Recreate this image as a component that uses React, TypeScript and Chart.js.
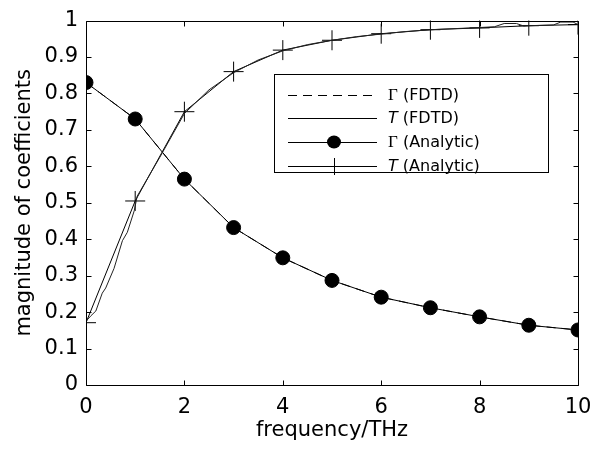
import React, { useEffect, useRef } from 'react';
import { Chart, registerables } from 'chart.js';

Chart.register(...registerables);

// ---- data ----
const freqAnalytic = [0, 1, 2, 3, 4, 5, 6, 7, 8, 9, 10];
const gammaAnalytic = [0.83, 0.73, 0.565, 0.432, 0.349, 0.287, 0.241, 0.212, 0.187, 0.164, 0.151];
const tAnalytic = [0.171, 0.505, 0.75, 0.86, 0.919, 0.946, 0.964, 0.975, 0.98, 0.986, 0.989];

const freqGammaFdtd = [0, 1, 2, 3, 4, 5, 6, 7, 8, 9, 10];
const gammaFdtd = [0.83, 0.73, 0.565, 0.432, 0.349, 0.287, 0.241, 0.212, 0.187, 0.164, 0.151];

const freqTFdtd = [0, 0.1, 0.2, 0.33, 0.4, 0.57, 0.74, 0.84, 0.98, 1.04, 1.5, 2, 2.5, 3, 3.5, 4, 4.5, 5, 5.5, 6, 6.5, 7, 7.5, 8, 8.3, 8.5, 8.75, 8.9, 9, 9.5, 9.65, 9.9, 10];
const tFdtd = [0.175, 0.19, 0.203, 0.252, 0.266, 0.32, 0.396, 0.419, 0.478, 0.518, 0.625, 0.745, 0.81, 0.857, 0.892, 0.917, 0.934, 0.946, 0.956, 0.963, 0.97, 0.975, 0.978, 0.981, 0.983, 0.992, 0.992, 0.985, 0.986, 0.988, 0.996, 0.996, 0.989];

const xTicks = [0, 2, 4, 6, 8, 10];
const yTicks = [0, 0.1, 0.2, 0.3, 0.4, 0.5, 0.6, 0.7, 0.8, 0.9, 1];

const legendSymbols = ['Γ', 'T', 'Γ', 'T'];
const legendTexts = [' (FDTD)', ' (FDTD)', ' (Analytic)', ' (Analytic)'];

const xTitle = 'frequency/THz';
const yTitle = 'magnitude of coefficients';

const toPts = (xs: number[], ys: number[]) => xs.map((x, i) => ({ x, y: ys[i] }));

const framePlugin = {
  id: 'framePlugin',
  afterDatasetsDraw(chart: any) {
    const { ctx, chartArea, scales } = chart;
    const { left, right, top, bottom } = chartArea;
    const xs = scales.x;
    const ys = scales.y;
    ctx.save();
    ctx.strokeStyle = '#000';
    ctx.lineWidth = 1;
    const L = Math.round(left) + 0.5;
    const R = Math.round(right) + 0.5;
    const T = Math.round(top) + 0.5;
    const B = Math.round(bottom) + 0.5;
    ctx.beginPath();
    ctx.rect(L, T, R - L, B - T);
    const tl = 5;
    xTicks.forEach((v) => {
      const px = Math.round(xs.getPixelForValue(v)) + 0.5;
      ctx.moveTo(px, B);
      ctx.lineTo(px, B - tl);
      ctx.moveTo(px, T);
      ctx.lineTo(px, T + tl);
    });
    yTicks.forEach((v) => {
      const py = Math.round(ys.getPixelForValue(v)) + 0.5;
      ctx.moveTo(L, py);
      ctx.lineTo(L + tl, py);
      ctx.moveTo(R, py);
      ctx.lineTo(R - tl, py);
    });
    ctx.stroke();

    // legend box
    const bx = 274.5, by = 74.5, bw = 274, bh = 98;
    ctx.fillStyle = '#fff';
    ctx.fillRect(bx, by, bw, bh);
    ctx.strokeRect(bx, by, bw, bh);
    const rows = [95, 118, 142, 166];
    const lx0 = 288, lx1 = 377, mx = 334, tx = 388;
    rows.forEach((ry, i) => {
      const y = ry + 0.5;
      ctx.beginPath();
      ctx.setLineDash(i === 0 ? [9, 6] : []);
      ctx.moveTo(lx0, y);
      ctx.lineTo(lx1, y);
      ctx.stroke();
      ctx.setLineDash([]);
      if (i === 2) {
        ctx.beginPath();
        ctx.fillStyle = '#000';
        ctx.ellipse(mx, ry, 7, 6.5, 0, 0, Math.PI * 2);
        ctx.fill();
      }
      if (i === 3) {
        ctx.beginPath();
        ctx.moveTo(mx + 0.5, ry - 8);
        ctx.lineTo(mx + 0.5, ry + 9);
        ctx.moveTo(mx - 10, y);
        ctx.lineTo(mx + 10, y);
        ctx.stroke();
      }
      ctx.fillStyle = '#000';
      ctx.textBaseline = 'middle';
      ctx.textAlign = 'left';
      const sym = legendSymbols[i];
      if (sym === 'Γ') {
        ctx.font = '17px "Liberation Serif"';
      } else {
        ctx.font = 'italic 16px "DejaVu Sans"';
      }
      ctx.fillText(sym, tx, ry + 1);
      const w = ctx.measureText(sym).width;
      ctx.font = '16px "DejaVu Sans"';
      ctx.fillText(legendTexts[i], tx + w, ry + 1);
    });
    ctx.restore();
  },
};

export default function App() {
  const ref = useRef<HTMLCanvasElement>(null);
  useEffect(() => {
    if (!ref.current) return;
    const font = { family: '"DejaVu Sans"', size: 21 };
    const chart = new Chart(ref.current, {
      type: 'scatter',
      data: {
        datasets: [
          {
            label: 'T (FDTD)',
            data: toPts(freqTFdtd, tFdtd),
            showLine: true,
            borderColor: '#222',
            borderWidth: 1,
            pointRadius: 0,
            tension: 0,
          },
          {
            label: 'Γ (FDTD)',
            data: toPts(freqGammaFdtd, gammaFdtd),
            showLine: true,
            borderColor: '#000',
            borderWidth: 1,
            borderDash: [9, 6],
            pointRadius: 0,
          },
          {
            label: 'Γ (Analytic)',
            data: toPts(freqAnalytic, gammaAnalytic),
            showLine: true,
            borderColor: '#000',
            borderWidth: 1,
            pointRadius: 7,
            pointStyle: 'circle',
            pointBackgroundColor: '#000',
            pointBorderColor: '#000',
          },
          {
            label: 'T (Analytic)',
            data: toPts(freqAnalytic, tAnalytic),
            showLine: true,
            borderColor: '#000',
            borderWidth: 1,
            pointRadius: 10,
            pointStyle: 'cross',
            pointBorderColor: '#000',
            pointBorderWidth: 1,
          },
        ],
      },
      options: {
        animation: false,
        responsive: false,
        devicePixelRatio: 1,
        events: [],
        layout: { padding: { left: 0, top: 15, right: 27, bottom: 0 } },
        plugins: { legend: { display: false }, tooltip: { enabled: false } },
        scales: {
          x: {
            type: 'linear',
            min: 0,
            max: 10,
            afterBuildTicks: (s: any) => {
              s.ticks = xTicks.map((v) => ({ value: v }));
            },
            afterFit: (s: any) => {
              s.height = 64;
            },
            grid: { display: false, drawTicks: false },
            border: { display: false },
            ticks: { padding: 10, font, color: '#000', maxRotation: 0, autoSkip: false },
            title: { display: true, text: xTitle, font, color: '#000', padding: { top: 0, bottom: 6 } },
          },
          y: {
            type: 'linear',
            min: 0,
            max: 1,
            afterBuildTicks: (s: any) => {
              s.ticks = yTicks.map((v) => ({ value: v }));
            },
            afterFit: (s: any) => {
              s.width = 86;
            },
            grid: { display: false, drawTicks: false },
            border: { display: false },
            ticks: {
              padding: 8,
              font,
              color: '#000',
              autoSkip: false,
              callback: (v: any) => String(Math.round(Number(v) * 10) / 10),
            },
            title: { display: true, text: yTitle, font, color: '#000', padding: { top: 12, bottom: 0 } },
          },
        },
      },
      plugins: [framePlugin],
    } as any);
    return () => chart.destroy();
  }, []);
  return (
    <div style={{ position: 'fixed', left: 0, top: 0, width: 605, height: 449, background: '#fff' }}>
      <canvas ref={ref} width={605} height={449} style={{ display: 'block', width: 605, height: 449 }} />
    </div>
  );
}
